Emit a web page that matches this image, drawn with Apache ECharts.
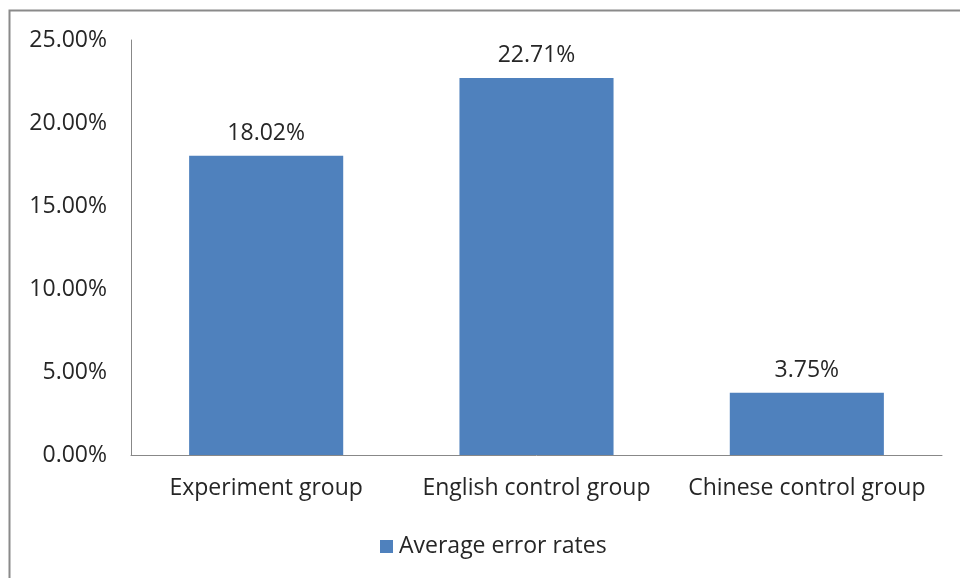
<!DOCTYPE html>
<html>
<head>
<meta charset="utf-8">
<script src="https://cdn.jsdelivr.net/npm/echarts@6/dist/echarts.min.js"></script>
<style>
  html, body { margin: 0; padding: 0; background: #fff; }
  #chart { width: 960px; height: 578px; }
</style>
</head>
<body>
<div id="chart"></div>
<script>
const categories = ['Experiment group', 'English control group', 'Chinese control group'];
const errorRates = [18.02, 22.71, 3.75];
const seriesName = 'Average error rates';
const yTicks = [0, 5, 10, 15, 20, 25];

const font = '"Open Sans", Lato, sans-serif';
const fontSize = 23;
const textColor = '#262626';

const chart = echarts.init(document.getElementById('chart'));
chart.setOption({
  animation: false,
  graphic: [{
    type: 'rect',
    shape: { x: 9.5, y: 10.5, width: 960, height: 600 },
    style: { fill: 'none', stroke: '#8a8a8a', lineWidth: 2 },
    silent: true
  }],
  grid: { left: 131, right: 18, top: 40, bottom: 123 },
  legend: {
    data: [seriesName],
    bottom: 15,
    left: 375,
    icon: 'rect',
    itemWidth: 13,
    itemHeight: 13,
    itemGap: 6,
    textStyle: { fontFamily: font, fontSize: fontSize, color: textColor, padding: [0, 0, 0, 1] }
  },
  xAxis: {
    type: 'category',
    data: categories,
    axisLine: { lineStyle: { color: '#888', width: 1 } },
    axisTick: { show: false },
    axisLabel: { fontFamily: font, fontSize: fontSize, color: textColor, margin: 22, interval: 0 }
  },
  yAxis: {
    type: 'value',
    min: yTicks[0],
    max: yTicks[yTicks.length - 1],
    interval: 5,
    splitLine: { show: false },
    axisLine: { show: true, lineStyle: { color: '#888', width: 1 } },
    axisTick: { show: false },
    axisLabel: {
      fontFamily: font, fontSize: fontSize, color: textColor, margin: 24,
      formatter: v => v.toFixed(2) + '%'
    }
  },
  series: [{
    name: seriesName,
    type: 'bar',
    data: errorRates,
    barWidth: '57%',
    itemStyle: { color: '#4F81BD' },
    label: {
      show: true,
      position: 'top',
      distance: 11,
      fontFamily: font, fontSize: fontSize, color: textColor,
      formatter: p => p.value.toFixed(2) + '%'
    }
  }]
});
</script>
</body>
</html>
